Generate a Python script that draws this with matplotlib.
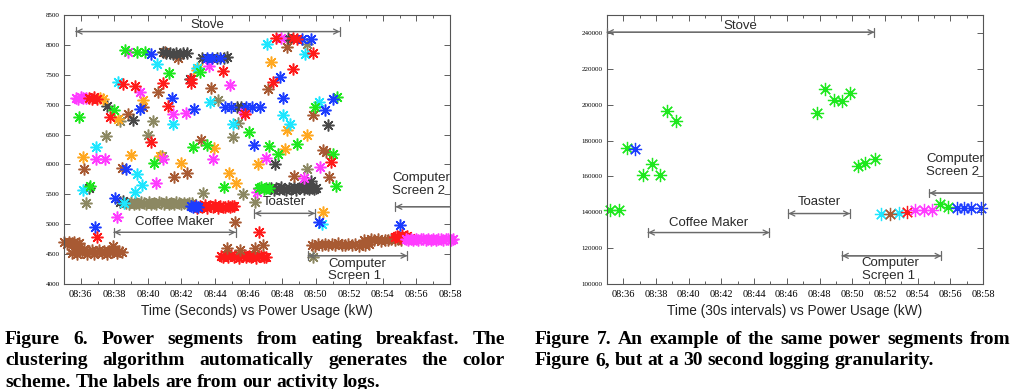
import matplotlib
matplotlib.use("Agg")
import matplotlib.pyplot as plt
from matplotlib.ticker import MultipleLocator, FuncFormatter
from matplotlib.patches import ArrowStyle

# ---- Figure 6 data (time in minutes after 08:00, power) ----
red_t = [36.5, 36.65, 36.8, 36.95, 36.97, 37.73, 38.49, 39.22, 40.21, 40.91, 41.21, 42.54,
         44.45, 45.78, 47.47, 48.66, 46.64, 50.89, 49.85, 47.63, 48.66, 48.9, 45.1, 42.55]
red_v = [7113, 7090, 7120, 7100, 4779, 6796, 7352, 7308, 6378, 7364, 6974, 7364,
         7559, 6852, 7380, 7603, 4874, 6044, 7865, 8111, 8111, 8105, 5300, 7436]
red_bar_t = [42.8, 42.95, 43.1, 43.25, 43.4, 43.55, 43.7, 43.85, 44.0, 44.15, 44.3, 44.45,
             44.6, 44.75, 44.9, 45.0]
red_bar_v = [5300, 5270, 5310, 5285, 5320, 5275, 5300, 5290, 5315, 5270, 5305, 5295,
             5280, 5310, 5290, 5300]
red_low_t = [44.35, 44.5, 44.65, 44.8, 44.95, 45.1, 45.25, 45.4, 45.55, 45.7, 45.85, 46.0,
             46.15, 46.3, 46.45, 46.6, 46.75, 46.9, 47.05]
red_low_v = [4470, 4445, 4485, 4455, 4490, 4450, 4475, 4440, 4465, 4485, 4445, 4470,
             4455, 4480, 4440, 4465, 4475, 4450, 4460]
red_end_t = [54.7, 54.85, 55.0, 55.15, 55.3, 55.45, 55.6]
red_end_v = [4780, 4800, 4770, 4820, 4780, 4800, 4770]

green_t = [35.9, 36.54, 37.97, 38.62, 39.32, 39.82, 41.27, 43.1, 40.35, 42.7, 43.5, 44.53,
           46.04, 47.23, 47.77, 48.9, 49.96, 51.25, 51.01, 51.21,
           46.6, 46.75, 46.9, 47.05, 47.2]
green_v = [6796, 5637, 6907, 7910, 7882, 7882, 7531, 7548, 6016, 6294, 6322, 5615,
           6545, 6311, 6172, 6350, 6963, 7130, 6172, 5637,
           5600, 5615, 5590, 5605, 5610]

blue_t = [36.83, 38.03, 38.68, 39.52, 41.41, 42.74, 42.55, 42.7, 42.85, 43.0, 46.32, 47.87,
          48.07, 50.55, 51.05, 50.21, 55.0, 40.21, 43.5, 43.8, 44.3,
          44.6, 44.95, 45.85, 46.2, 46.65, 49.16, 49.7]
blue_v = [4958, 5431, 5916, 6935, 7113, 6935, 5300, 5285, 5305, 5290, 6322, 7464,
          7119, 6918, 7102, 5041, 4985, 7854, 7787, 7787, 7787,
          6963, 6963, 6963, 6963, 6963, 8100, 8100]

gray_t = [40.87, 41.1, 41.3, 41.51, 41.7, 41.9, 42.1, 42.3, 43.2, 44.09, 44.53, 44.7, 42.5,
          37.57, 39.12, 38.33, 38.5, 45.3, 45.55, 47.57, 50.75, 36.5, 48.36, 49.35, 49.7]
gray_v = [7882, 7870, 7860, 7854, 7860, 7854, 7870, 7865, 7787, 7787, 7787, 7790, 7436,
          6974, 6740, 5375, 5390, 6963, 6963, 6005, 6656, 5600, 8111, 5680, 5720]
gray_bar_t = [47.35, 47.5, 47.65, 47.8, 47.95, 48.1, 48.25, 48.4, 48.55, 48.7, 48.85, 49.0,
              49.15, 49.3, 49.45, 49.6, 49.75, 49.9, 50.0]
gray_bar_v = [5600, 5580, 5610, 5585, 5620, 5590, 5575, 5605, 5595, 5615, 5580, 5600,
              5625, 5590, 5610, 5585, 5600, 5590, 5605]

brown_t = [37.89, 36.18, 38.82, 39.72, 40.61, 41.0, 41.8, 43.73, 43.14, 42.34, 41.55, 38.43,
           45.19, 44.73, 45.48, 46.38, 46.87, 47.17, 48.26, 48.7, 49.86, 50.41, 50.6, 50.81]
brown_v = [4634, 5927, 6851, 6963, 7213, 7882, 7787, 7280, 6406, 5860, 5793, 5933,
           5041, 4595, 4567, 4595, 4651, 7269, 7965, 5804, 6823, 6239, 6210, 5793]
brown_a_t = [35.0, 35.15, 35.3, 35.45, 35.6, 35.75, 35.9]
brown_a_v = [4700, 4670, 4710, 4680, 4695, 4665, 4690]
brown_b_t = [35.45, 35.6, 35.75, 35.9, 36.05, 36.2, 36.35, 36.5, 36.65, 36.8, 36.95, 37.1,
             37.25, 37.4, 37.55, 37.7, 37.85, 38.0, 38.15, 38.3, 38.45]
brown_b_v = [4520, 4560, 4500, 4550, 4530, 4580, 4510, 4545, 4565, 4505, 4540, 4575,
             4520, 4550, 4500, 4560, 4530, 4570, 4515, 4545, 4535]
brown_c_t = [49.75, 49.95, 50.15, 50.35, 50.55, 50.75, 50.95, 51.15, 51.35, 51.55, 51.75,
             51.95, 52.15, 52.35, 52.55, 52.75, 52.95, 53.15]
brown_c_v = [4660, 4640, 4675, 4650, 4670, 4645, 4665, 4655, 4680, 4645, 4660, 4670,
             4650, 4665, 4640, 4675, 4655, 4665]
brown_d_t = [52.9, 53.1, 53.3, 53.5, 53.7, 53.9, 54.1, 54.3, 54.5, 54.7, 54.9, 55.1]
brown_d_v = [4735, 4720, 4745, 4730, 4750, 4725, 4740, 4735, 4750, 4730, 4745, 4735]

magenta_t = [35.7, 35.85, 36.0, 36.15, 36.3, 36.89, 37.43, 38.13, 38.82, 39.52, 40.51, 40.91,
             41.47, 42.26, 43.65, 43.89, 44.89, 45.7, 46.48, 47.03, 50.25, 47.91, 49.3]
magenta_v = [7113, 7100, 7120, 7105, 7113, 6099, 6099, 5125, 7882, 7213, 5693, 6099,
             6851, 6862, 7642, 6099, 7336, 6870, 5542, 6116, 5960, 8111, 5780]
magenta_bar_t = [55.35, 55.5, 55.65, 55.8, 55.95, 56.1, 56.25, 56.4, 56.55, 56.7, 56.85,
                 57.0, 57.15, 57.3, 57.45, 57.6, 57.75, 57.9, 58.05, 58.2]
magenta_bar_v = [4745, 4730, 4755, 4740, 4750, 4735, 4755, 4745, 4730, 4750, 4740, 4755,
                 4735, 4745, 4750, 4730, 4745, 4755, 4740, 4745]

cyan_t = [36.14, 36.93, 38.23, 38.6, 39.22, 39.32, 39.62, 40.55, 41.51, 42.9, 43.69, 45.09,
          47.11, 48.07, 48.47, 49.36, 50.21, 50.35]
cyan_v = [5570, 6294, 7380, 5360, 5542, 5838, 5654, 7687, 6673, 7620, 7046, 6684,
          8021, 6823, 6673, 7855, 7046, 5002]

orange_t = [36.14, 37.17, 37.3, 38.23, 39.02, 39.72, 40.7, 42.0, 42.9, 43.0, 43.93, 44.85,
            45.24, 46.58, 47.31, 48.17, 48.27, 49.46, 50.45]
orange_v = [6127, 7113, 7090, 6768, 6155, 7085, 6140, 6016, 7575, 7620, 6277, 5860,
            5682, 6005, 7715, 6266, 6584, 6489, 5208]

khaki_t = [36.3, 37.49, 38.33, 40.02, 40.31, 40.85, 43.3, 44.19, 45.09, 45.38, 45.68, 46.38,
           49.46, 49.86, 49.5]
khaki_v = [5347, 6473, 6729, 6489, 6729, 6138, 5515, 7085, 6461, 6696, 5503, 5364,
           5932, 4456, 8020]
khaki_bar_t = [38.7, 38.85, 39.0, 39.15, 39.3, 39.45, 39.6, 39.75, 39.9, 40.05, 40.2, 40.35,
               40.5, 40.65, 40.8, 40.95, 41.1, 41.25, 41.4, 41.55, 41.7, 41.85, 42.0, 42.15,
               42.3, 42.45, 42.6]
khaki_bar_v = [5355, 5335, 5370, 5345, 5360, 5330, 5365, 5350, 5340, 5370, 5345, 5360,
               5335, 5365, 5350, 5340, 5370, 5345, 5355, 5335, 5365, 5350, 5345, 5360,
               5340, 5355, 5350]

# ---- Figure 7 data (30 s samples) ----
r_green_t = [35.16, 35.74, 36.2, 37.2, 37.73, 38.22, 38.69, 39.24, 47.84, 48.35, 48.86,
             49.37, 49.88, 50.35, 50.81, 51.38, 55.36, 55.87]
r_green_v = [141000, 141000, 176000, 160600, 167000, 161000, 196500, 190800, 195500,
             208800, 202800, 202000, 206500, 165800, 167600, 169500, 144500, 143200]
r_blue_t = [36.71, 56.38, 56.86, 57.29, 57.86]
r_blue_v = [175200, 142300, 142300, 142300, 142300]
r_cyan_t = [51.79, 52.85]
r_cyan_v = [138900, 139400]
r_brown_t = [52.34]
r_brown_v = [139000]
r_red_t = [53.36]
r_red_v = [140200]
r_magenta_t = [53.87, 54.38, 54.89]
r_magenta_v = [141300, 141300, 141300]

# annotation spans: (label, start, end)
left_spans = [("Stove", 35.7, 51.44), ("Coffee Maker", 37.97, 45.23),
              ("Toaster", 46.35, 49.96), ("Computer\nScreen 1", 49.55, 55.46)]
right_spans = [("Stove", 35.0, 51.36), ("Coffee Maker", 37.51, 44.94),
               ("Toaster", 46.1, 49.86), ("Computer\nScreen 1", 49.37, 55.46)]

RED, GREEN, BLUE = '#ff1a1a', '#1ee81e', '#1c3cff'
MAGENTA, CYAN, ORANGE = '#ff3cff', '#1ee6ff', '#ffa820'
BROWN, GRAY, KHAKI = '#a85a33', '#484848', '#8c8862'
ASTER = (8, 2, 0)

fig = plt.figure(figsize=(10.24, 3.89), dpi=100)
axL = fig.add_axes([64 / 1024, 1 - 284 / 389, 386 / 1024, 269 / 389])
axR = fig.add_axes([607 / 1024, 1 - 284 / 389, 376 / 1024, 269 / 389])

left_series = [
    (brown_a_t, brown_a_v, BROWN), (brown_b_t, brown_b_v, BROWN),
    (khaki_bar_t, khaki_bar_v, KHAKI), (red_bar_t, red_bar_v, RED),
    (red_low_t, red_low_v, RED), (gray_bar_t, gray_bar_v, GRAY),
    (brown_c_t, brown_c_v, BROWN), (brown_d_t, brown_d_v, BROWN),
    (red_end_t, red_end_v, RED), (magenta_bar_t, magenta_bar_v, MAGENTA),
    (brown_t, brown_v, BROWN), (khaki_t, khaki_v, KHAKI), (gray_t, gray_v, GRAY),
    (orange_t, orange_v, ORANGE), (cyan_t, cyan_v, CYAN), (magenta_t, magenta_v, MAGENTA),
    (green_t, green_v, GREEN), (blue_t, blue_v, BLUE), (red_t, red_v, RED),
]
for t, v, c in left_series:
    axL.plot(t, v, ls='none', marker=ASTER, ms=8.5, mew=1.1, color=c, clip_on=False)

right_series = [
    (r_green_t, r_green_v, GREEN), (r_blue_t, r_blue_v, BLUE), (r_cyan_t, r_cyan_v, CYAN),
    (r_brown_t, r_brown_v, BROWN), (r_red_t, r_red_v, RED),
    (r_magenta_t, r_magenta_v, MAGENTA),
]
for t, v, c in right_series:
    axR.plot(t, v, ls='none', marker=ASTER, ms=9.5, mew=0.9, color=c, clip_on=False)
    axR.plot(t, v, ls='none', marker='o', ms=2, mew=0, color=c, clip_on=False)

sans = ['Liberation Sans', 'DejaVu Sans']
serif = ['Liberation Serif', 'DejaVu Serif']
ARROW_C = '#6a6a6a'


def span_arrow(ax, x0, x1, y, left_only=False):
    # path runs from xytext (x1) to xy (x0)
    style = '->' if left_only else '<->'
    ax.annotate('', xy=(x0, y), xytext=(x1, y),
                arrowprops=dict(arrowstyle=style, color=ARROW_C, lw=0.9,
                                shrinkA=0, shrinkB=0, mutation_scale=9))
    bar = ArrowStyle('|-|', widthA=0 if left_only else 0.35, widthB=0.35)
    ax.annotate('', xy=(x0, y), xytext=(x1, y),
                arrowprops=dict(arrowstyle=bar, color=ARROW_C, lw=0.9,
                                shrinkA=0, shrinkB=0, mutation_scale=9))


def decorate(ax, spans, ys, screen2, xlabel):
    ys_arrow, ys_text = ys
    for (label, a, b), ya, yt in zip(spans, ys_arrow, ys_text):
        span_arrow(ax, a, b, ya)
        if '\n' in label:
            ax.text(a + 1.2, yt, label, ha='left', va='center', fontsize=9.5,
                    family=sans, color='#2a2a2a', linespacing=1.05)
        else:
            ax.text((a + b) / 2, yt, label, ha='center', va='center', fontsize=9.5,
                    family=sans, color='#2a2a2a')
    x_s2, y_arrow, y_text = screen2
    span_arrow(ax, x_s2, 58.0, y_arrow, left_only=True)
    ax.text(x_s2 - 0.18, y_text, "Computer\nScreen 2", ha='left', va='center', fontsize=9.5,
            family=sans, color='#2a2a2a', linespacing=1.05)

    ax.set_xlim(35.0, 58.0)
    ax.xaxis.set_major_locator(MultipleLocator(2))
    ax.xaxis.set_minor_locator(MultipleLocator(1))
    ax.xaxis.set_major_formatter(FuncFormatter(lambda m, p: '08:%02d' % round(m)))
    ax.tick_params(which='both', direction='in', top=True, right=True, color='#444444',
                   width=0.6)
    ax.tick_params(which='major', length=4)
    ax.tick_params(which='minor', length=2.5)
    ax.tick_params(axis='x', labelsize=7.5, pad=4)
    ax.tick_params(axis='y', labelsize=5, pad=3)
    for lab in ax.get_xticklabels() + ax.get_yticklabels():
        lab.set_family(serif)
    for s in ax.spines.values():
        s.set_color('#555555')
        s.set_linewidth(0.8)
    ax.set_xlabel(xlabel, fontsize=9.8, family=sans, labelpad=4, color='#222222')


axL.set_ylim(4000, 8500)
axL.yaxis.set_major_locator(MultipleLocator(500))
decorate(axL, left_spans, ([8223, 4864, 5181, 4473], [8328, 5036, 5365, 4235]),
         (54.75, 5292, 5666), "Time (Seconds) vs Power Usage (kW)")

axR.set_ylim(100000, 250000)
axR.yaxis.set_major_locator(MultipleLocator(20000))
axR.yaxis.set_major_formatter(FuncFormatter(lambda v, p: '%d' % v))
decorate(axR, right_spans, ([240400, 128700, 139300, 115700], [243900, 134200, 146000, 108000]),
         (54.72, 150700, 166000), "Time (30s intervals) vs Power Usage (kW)")

# ---- captions ----
W, H = fig.bbox.width, fig.bbox.height
renderer = fig.canvas.get_renderer()
cap_kw = dict(fontsize=14, family=serif, weight='bold', va='baseline', color='black')


def caption_line(text, x0, x1, y_px, justify=True):
    words = text.split()
    objs = [fig.text(0, 1 - y_px / H, w, **cap_kw) for w in words]
    widths = [o.get_window_extent(renderer).width for o in objs]
    t2 = fig.text(0, 0, 'a a', **cap_kw)
    t1 = fig.text(0, 0, 'aa', **cap_kw)
    space = t2.get_window_extent(renderer).width - t1.get_window_extent(renderer).width
    t2.remove()
    t1.remove()
    gap = (x1 - x0 - sum(widths)) / (len(words) - 1) if justify else space
    x = x0
    for o, w in zip(objs, widths):
        o.set_x(x / W)
        x += w + gap


caption_line("Figure 6.  Power segments from eating breakfast.  The", 5, 505, 344)
caption_line("clustering algorithm automatically generates the color", 5, 505, 365)
caption_line("scheme. The labels are from our activity logs.", 5, 505, 387, justify=False)
caption_line("Figure 7. An example of the same power segments from", 535, 1010, 344)
caption_line("Figure 6, but at a 30 second logging granularity.", 535, 1010, 365, justify=False)

fig.savefig("out.png", dpi=100)
